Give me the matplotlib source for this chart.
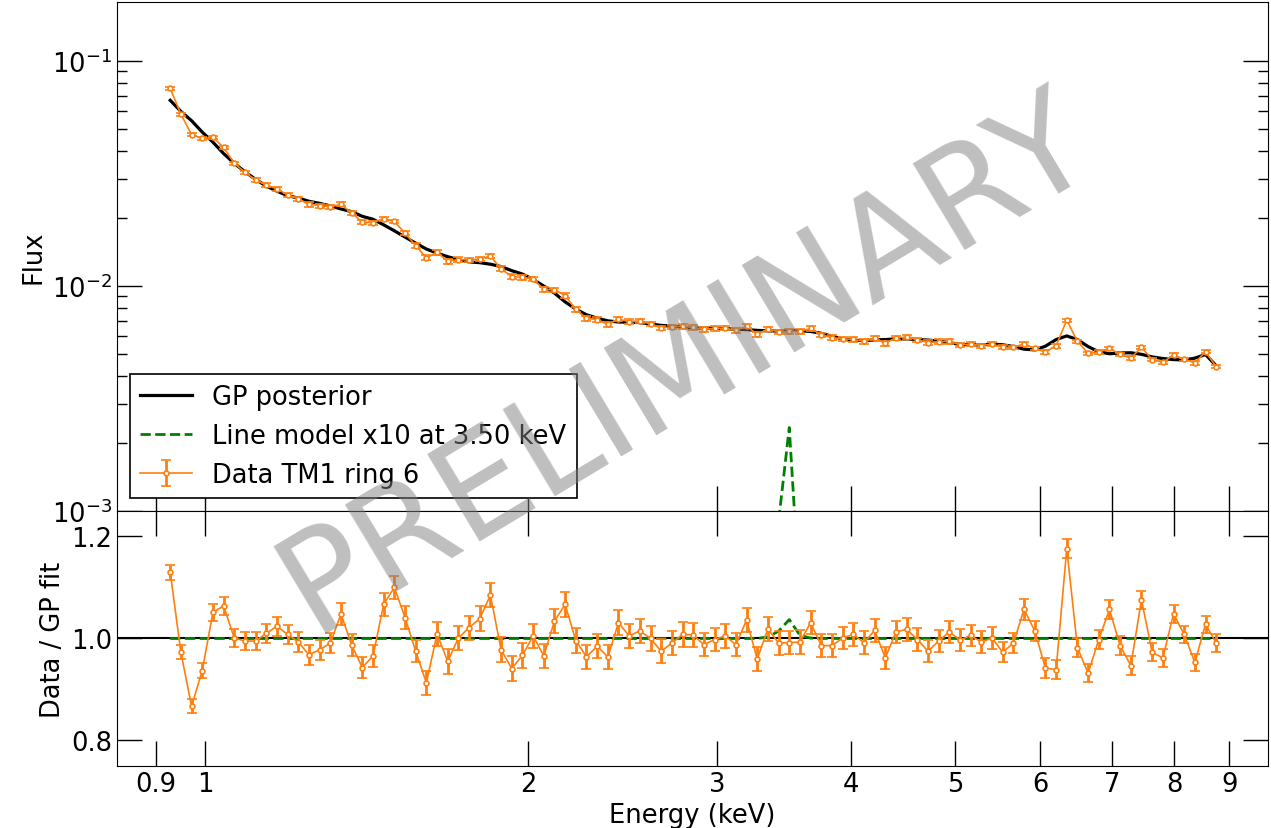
import numpy as np
import matplotlib
matplotlib.use("Agg")
import matplotlib.pyplot as plt
from matplotlib.ticker import NullLocator

# energy bin centres (keV), log spaced grid of the spectrum
energy = np.geomspace(0.928, 8.75, 99)

# GP posterior mean at each bin
gp_flux = np.array([
    0.0669, 0.0597, 0.0543, 0.0483, 0.0436, 0.0388, 0.0351, 0.0322, 0.0298, 0.0278,
    0.0264, 0.0252, 0.0246, 0.0238, 0.0233, 0.0227, 0.0220, 0.0214, 0.0204, 0.0198,
    0.0187, 0.0176, 0.0165, 0.0155, 0.0146, 0.0140, 0.0135, 0.0131, 0.0128, 0.0127,
    0.0125, 0.0122, 0.0117, 0.0113, 0.0107, 0.0100, 0.0093, 0.0085, 0.0079, 0.00745,
    0.00720, 0.00700, 0.00692, 0.00690, 0.00688, 0.00678, 0.00668, 0.00664, 0.00657, 0.00650,
    0.00650, 0.00650, 0.00647, 0.00642, 0.00640, 0.00635, 0.00632, 0.00631, 0.00634, 0.00633,
    0.00628, 0.00616, 0.00598, 0.00582, 0.00574, 0.00572, 0.00576, 0.00578, 0.00582, 0.00582,
    0.00578, 0.00575, 0.00569, 0.00560, 0.00550, 0.00548, 0.00547, 0.00552, 0.00548, 0.00538,
    0.00524, 0.00520, 0.00540, 0.00578, 0.00600, 0.00578, 0.00538, 0.00510, 0.00500, 0.00504,
    0.00505, 0.00497, 0.00484, 0.00476, 0.00471, 0.00469, 0.00478, 0.00496, 0.00442])

# data / GP ratio
ratio = np.array([
    1.130, 0.973, 0.867, 0.937, 1.051, 1.064, 1.001, 0.995, 0.995, 1.010,
    1.024, 1.008, 0.993, 0.968, 0.978, 0.991, 1.048, 0.987, 0.943, 0.966,
    1.067, 1.100, 1.041, 0.975, 0.913, 1.009, 0.955, 1.001, 1.021, 1.039,
    1.085, 0.978, 0.941, 0.967, 1.005, 0.966, 1.034, 1.067, 0.996, 0.964,
    0.985, 0.964, 1.031, 1.005, 1.015, 1.000, 0.975, 0.991, 1.008, 1.007,
    0.988, 0.998, 1.005, 0.988, 1.036, 0.960, 1.019, 0.991, 0.992, 0.993,
    1.031, 0.986, 0.986, 1.001, 1.008, 0.992, 1.016, 0.962, 1.013, 1.018,
    0.998, 0.975, 0.995, 1.013, 0.997, 1.006, 0.993, 1.001, 0.973, 0.991,
    1.057, 1.015, 0.942, 0.939, 1.176, 0.982, 0.932, 0.998, 1.057, 0.986,
    0.947, 1.076, 0.973, 0.962, 1.048, 1.008, 0.953, 1.028, 0.991])

# 1 sigma error on the ratio
ratio_err = np.array([
    0.015, 0.014, 0.014, 0.015, 0.016, 0.017, 0.017, 0.017, 0.018, 0.018,
    0.019, 0.019, 0.019, 0.020, 0.020, 0.020, 0.021, 0.021, 0.021, 0.021,
    0.022, 0.022, 0.022, 0.022, 0.023, 0.024, 0.024, 0.024, 0.024, 0.024,
    0.024, 0.024, 0.024, 0.024, 0.024, 0.024, 0.024, 0.024, 0.024, 0.024,
    0.024, 0.024, 0.024, 0.024, 0.024, 0.024, 0.024, 0.024, 0.024, 0.024,
    0.023, 0.023, 0.023, 0.023, 0.023, 0.023, 0.023, 0.023, 0.023, 0.023,
    0.022, 0.022, 0.022, 0.022, 0.022, 0.022, 0.022, 0.022, 0.022, 0.022,
    0.022, 0.022, 0.022, 0.022, 0.022, 0.021, 0.021, 0.021, 0.020, 0.020,
    0.020, 0.019, 0.019, 0.019, 0.019, 0.018, 0.018, 0.018, 0.018, 0.018,
    0.018, 0.018, 0.018, 0.017, 0.017, 0.017, 0.017, 0.017, 0.017])

# line model (no x10), only non zero around 3.5 keV
line_model = np.zeros(len(energy))
line_model[56:61] = [2e-5, 9e-5, 2.35e-4, 4e-5, 5e-6]

flux = gp_flux * ratio
flux_err = gp_flux * ratio_err

xticks = [0.9, 1, 2, 3, 4, 5, 6, 7, 8, 9]
xticklabels = ["0.9", "1", "2", "3", "4", "5", "6", "7", "8", "9"]

orange = "#ff7f0e"
fs = 18.5

fig = plt.figure(figsize=(12.71, 8.29), dpi=100)
ax1 = fig.add_axes([0.0921, 0.3824, 0.9056, 0.6140])
ax2 = fig.add_axes([0.0921, 0.0748, 0.9056, 0.3076], sharex=ax1)

ax1.plot(energy, gp_flux, color="k", lw=2.3, label="GP posterior", zorder=3)
ax1.plot(energy, 10 * line_model, color="green", ls="--", lw=2, label="Line model x10 at 3.50 keV")
ax1.errorbar(energy, flux, yerr=flux_err, fmt="-o", color=orange, ms=3.5, mfc="white",
             mec=orange, mew=1.2, lw=1.2, elinewidth=2, capsize=3.5, capthick=2,
             label="Data TM1 ring 6", zorder=4)
ax1.set_yscale("log")
ax1.set_xscale("log")
ax1.set_ylim(1e-3, 0.183)
ax1.set_ylabel("Flux", fontsize=fs)
leg = ax1.legend(loc="lower left", fontsize=fs, fancybox=False, edgecolor="k", framealpha=1)
leg.get_frame().set_linewidth(1.2)
ax1.tick_params(labelbottom=False)

ax2.axhline(1.0, color="k", lw=1.5)
ax2.plot(energy, 1 + line_model / gp_flux, color="green", ls="--", lw=2)
ax2.errorbar(energy, ratio, yerr=ratio_err, fmt="-o", color=orange, ms=3.5, mfc="white",
             mec=orange, mew=1.2, lw=1.2, elinewidth=2, capsize=3.5, capthick=2, zorder=4)
ax2.set_ylim(0.75, 1.25)
ax2.set_yticks([0.8, 1.0, 1.2])
ax2.set_ylabel("Data / GP fit", fontsize=fs)
ax2.set_xlabel("Energy (keV)", fontsize=fs)

ax2.set_xlim(0.828, 9.78)
ax2.set_xticks(xticks)
ax2.set_xticklabels(xticklabels)
ax2.xaxis.set_minor_locator(NullLocator())

ax1.tick_params(which="both", direction="in", top=False, right=True, labelsize=fs)
ax2.tick_params(which="both", direction="in", top=True, right=True, labelsize=fs)
for ax in (ax1, ax2):
    ax.tick_params(which="major", length=18, width=1)
    ax.tick_params(which="minor", length=7, width=1)

fig.text(0.54, 0.56, "PRELIMINARY", fontsize=100, color="gray", alpha=0.5,
         rotation=31, ha="center", va="center")

fig.savefig("out.png", dpi=100)
